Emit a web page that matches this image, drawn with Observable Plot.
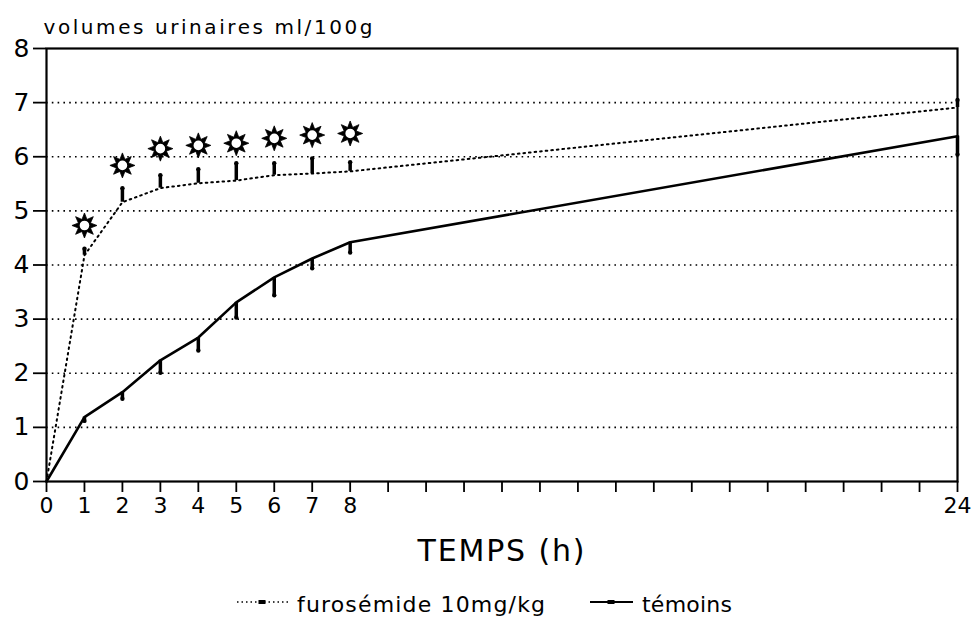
<!DOCTYPE html>
<html>
<head>
<meta charset="utf-8">
<script src="https://cdn.jsdelivr.net/npm/d3@7"></script>
<script src="https://cdn.jsdelivr.net/npm/@observablehq/plot@0.6"></script>
<style>
  html, body { margin: 0; padding: 0; background: #fff; }
  body { width: 974px; height: 621px; overflow: hidden; font-family: "DejaVu Sans", sans-serif; }
  #chart svg, #legend svg { display: block; }
</style>
</head>
<body>
<div id="chart"></div>
<div id="legend"></div>
<script>
// ---- data ----
const hours      = [0, 1, 2, 3, 4, 5, 6, 7, 8, 24];
const furosemide = [0, 4.18, 5.16, 5.42, 5.51, 5.56, 5.66, 5.69, 5.73, 6.91];
const furoHigh   = [null, 4.30, 5.42, 5.66, 5.77, 5.88, 5.88, 5.97, 5.90, 7.05];
const temoins    = [0, 1.19, 1.65, 2.24, 2.66, 3.31, 3.77, 4.12, 4.42, 6.38];
const temoinsLow = [null, 1.12, 1.53, 2.01, 2.42, 3.03, 3.44, 3.94, 4.23, 6.04];
const starHours  = [1, 2, 3, 4, 5, 6, 7, 8];
const starValues = [4.73, 5.84, 6.15, 6.21, 6.25, 6.34, 6.40, 6.43];
const xTicks     = d3.range(0, 25);
const xLabelled  = [0, 1, 2, 3, 4, 5, 6, 7, 8, 24];
const yTicks     = [0, 1, 2, 3, 4, 5, 6, 7, 8];
const gridValues = [1, 2, 3, 4, 5, 6, 7];
const yTitle     = "volumes urinaires ml/100g";
const xTitle     = "TEMPS (h)";
const seriesNames = ["furosémide 10mg/kg", "témoins"];

// ---- tables ----
const furoData = hours.map((h, i) => ({h, v: furosemide[i], hi: furoHigh[i]}));
const temData  = hours.map((h, i) => ({h, v: temoins[i], lo: temoinsLow[i]}));
const starData = starHours.map((h, i) => ({h, v: starValues[i]}));
const furoErr = furoData.filter(d => d.hi != null);
const temErr  = temData.filter(d => d.lo != null);

// eight-spiked star (spikes), with a white disc drawn on top
const spikes = {
  draw(ctx, size) {
    const r = Math.sqrt(size / Math.PI);
    const n = 8;
    const ri = r * 0.52;
    for (let i = 0; i < 2 * n; i++) {
      const a = i * Math.PI / n - Math.PI / 2;
      const rr = i % 2 === 0 ? r : ri;
      const x = rr * Math.cos(a), y = rr * Math.sin(a);
      if (i === 0) ctx.moveTo(x, y); else ctx.lineTo(x, y);
    }
    ctx.closePath();
  }
};

const FONT = "DejaVu Sans, sans-serif";

const chart = Plot.plot({
  width: 974,
  height: 575,
  marginTop: 48,
  marginLeft: 46,
  marginRight: 17,
  marginBottom: 94,
  style: {fontFamily: FONT, color: "#000", background: "#fff"},
  x: {type: "linear", domain: [0, 24]},
  y: {type: "linear", domain: [0, 8]},
  marks: [
    Plot.gridY(gridValues, {stroke: "#000", strokeOpacity: 1, strokeWidth: 1.6, strokeDasharray: "1.6,4.2"}),
    Plot.axisY(yTicks, {tickSize: 13, tickPadding: 4, fontSize: 25, label: null, strokeWidth: 1.8, tickFormat: d => d}),
    Plot.axisX(xTicks, {tickSize: 11, tickPadding: 5, fontSize: 22, label: null, strokeWidth: 1.8,
      tickFormat: d => xLabelled.includes(d) ? String(d) : ""}),
    Plot.frame({stroke: "#000", strokeWidth: 2.2}),
    Plot.line(furoData, {x: "h", y: "v", stroke: "#000", strokeWidth: 2, strokeDasharray: "1.6,4"}),
    Plot.line(temData, {x: "h", y: "v", stroke: "#000", strokeWidth: 2.6}),
    Plot.ruleX(furoErr, {x: "h", y1: "v", y2: "hi", stroke: "#000", strokeWidth: 3.5}),
    Plot.ruleX(temErr, {x: "h", y1: "v", y2: "lo", stroke: "#000", strokeWidth: 3.5}),
    Plot.dot(furoErr, {x: "h", y: "hi", r: 2.2, fill: "#000"}),
    Plot.dot(temErr, {x: "h", y: "lo", r: 2.2, fill: "#000"}),
    Plot.dot(starData, {x: "h", y: "v", symbol: spikes, r: 12.5, fill: "#000", stroke: "#000", strokeWidth: 0.8}),
    Plot.dot(starData, {x: "h", y: "v", r: 5.6, fill: "#fff", stroke: "#000", strokeWidth: 1.6}),
    Plot.text([yTitle], {frameAnchor: "top-left", dx: -3, dy: -15, textAnchor: "start", lineAnchor: "bottom",
      fontSize: 20, fill: "#000"}),
    Plot.text([xTitle], {frameAnchor: "bottom", dx: -1, dy: 79, lineAnchor: "bottom", fontSize: 30, fill: "#000"})
  ]
});
// stretch wide lettering like the original typeface
d3.select(chart).selectAll("text").each(function () {
  const t = this.textContent;
  if (t === yTitle) d3.select(this).attr("textLength", 329).attr("lengthAdjust", "spacing");
  if (t === xTitle) d3.select(this).attr("textLength", 167).attr("lengthAdjust", "spacing");
});
document.getElementById("chart").appendChild(chart);

// ---- legend (below the chart) ----
const lg = d3.create("svg").attr("width", 974).attr("height", 46)
  .style("font-family", FONT).style("font-size", "22px");
function item(x0, sampleW, textW, name, dashed) {
  const y = 27;
  lg.append("line").attr("x1", x0).attr("x2", x0 + sampleW).attr("y1", y).attr("y2", y)
    .attr("stroke", "#000").attr("stroke-width", dashed ? 1.6 : 2.2)
    .attr("stroke-dasharray", dashed ? "1.5,3" : null);
  lg.append("rect").attr("x", x0 + sampleW * 0.5 - 4).attr("y", y - 2).attr("width", 7).attr("height", 4).attr("fill", "#000");
  lg.append("text").attr("x", x0 + sampleW + 9).attr("y", y + 10).text(name)
    .attr("textLength", textW).attr("lengthAdjust", "spacing");
}
item(237, 51, 248, seriesNames[0], true);
item(590, 43, 90, seriesNames[1], false);
document.getElementById("legend").appendChild(lg.node());
</script>
</body>
</html>
